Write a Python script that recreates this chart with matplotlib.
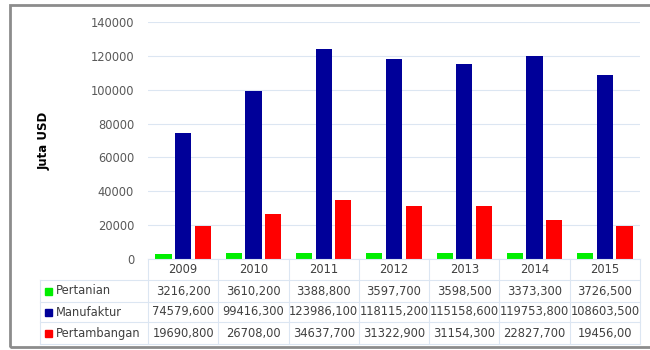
import numpy as np
import matplotlib.pyplot as plt
from matplotlib.patches import Rectangle

plt.rcParams['font.family'] = ['DejaVu Sans']

years = ['2009', '2010', '2011', '2012', '2013', '2014', '2015']
series_names = ['Pertanian', 'Manufaktur', 'Pertambangan']
pertanian = [3216.2, 3610.2, 3388.8, 3597.7, 3598.5, 3373.3, 3726.5]
manufaktur = [74579.6, 99416.3, 123986.1, 118115.2, 115158.6, 119753.8, 108603.5]
pertambangan = [19690.8, 26708.0, 34637.7, 31322.9, 31154.3, 22827.7, 19456.0]
pertanian_txt = ['3216,200', '3610,200', '3388,800', '3597,700', '3598,500', '3373,300', '3726,500']
manufaktur_txt = ['74579,600', '99416,300', '123986,100', '118115,200', '115158,600', '119753,800', '108603,500']
pertambangan_txt = ['19690,800', '26708,00', '34637,700', '31322,900', '31154,300', '22827,700', '19456,00']
colors = ['#00ee00', '#000099', '#ff0000']

W, H = 650, 350
fig = plt.figure(figsize=(6.5, 3.5), dpi=100)

def fx(px):
    return px / W

def fy(py):
    return 1 - py / H

# outer frame
fig.patches.append(Rectangle((fx(10), fy(347)), fx(660) - fx(10), fy(5) - fy(347),
                             transform=fig.transFigure, fill=False, edgecolor='#8c8c8c', lw=2))

left, right, top, bottom = 148, 640, 22, 259
ax = fig.add_axes([fx(left), fy(bottom), fx(right) - fx(left), fy(top) - fy(bottom)])

x = np.arange(len(years))
w = 0.23
for i, vals in enumerate([pertanian, manufaktur, pertambangan]):
    ax.bar(x + (i - 1) * 0.28, vals, width=w, color=colors[i], zorder=3)

ax.set_xlim(-0.5, len(years) - 0.5)
ax.set_ylim(0, 140000)
ax.set_yticks(np.arange(0, 140001, 20000))
ax.yaxis.grid(True, color='#dce6f2', lw=0.8, zorder=0)
ax.set_xticks([])
for s in ax.spines.values():
    s.set_visible(False)
ax.tick_params(axis='y', length=0, labelsize=8.3, labelcolor='#595959', pad=10)
fig.text(fx(44), fy(141), 'Juta USD', rotation=90, fontsize=8.5, fontweight='bold',
         ha='center', va='center')

# data table below the axes
line_c = '#dce6f2'
tab_left = 40
col_w = (right - left) / len(years)
rows_y = [259, 280, 302, 322, 344]
# horizontal lines
fig.add_artist(plt.Line2D([fx(left), fx(right)], [fy(rows_y[0])] * 2, color=line_c, lw=0.8))
for yy in rows_y[1:]:
    fig.add_artist(plt.Line2D([fx(tab_left), fx(right)], [fy(yy)] * 2, color=line_c, lw=0.8))
# vertical lines
fig.add_artist(plt.Line2D([fx(tab_left)] * 2, [fy(rows_y[1]), fy(rows_y[-1])], color=line_c, lw=0.8))
for j in range(len(years) + 1):
    xx = left + j * col_w
    fig.add_artist(plt.Line2D([fx(xx)] * 2, [fy(rows_y[0]), fy(rows_y[-1])], color=line_c, lw=0.8))

txt_kw = dict(fontsize=8.3, color='#404040', va='center')
for j, yr in enumerate(years):
    cx = left + (j + 0.5) * col_w
    fig.text(fx(cx), fy((rows_y[0] + rows_y[1]) / 2), yr, ha='center', **txt_kw)
for r, (name, txts) in enumerate(zip(series_names, [pertanian_txt, manufaktur_txt, pertambangan_txt])):
    cy = (rows_y[r + 1] + rows_y[r + 2]) / 2
    fig.patches.append(Rectangle((fx(45), fy(cy + 3.5)), fx(7), fy(0) - fy(7),
                                 transform=fig.transFigure, color=colors[r]))
    fig.text(fx(56), fy(cy), name, ha='left', **txt_kw)
    for j, t in enumerate(txts):
        cx = left + (j + 0.5) * col_w
        fig.text(fx(cx), fy(cy), t, ha='center', **txt_kw)

fig.savefig('out.png', dpi=100)
